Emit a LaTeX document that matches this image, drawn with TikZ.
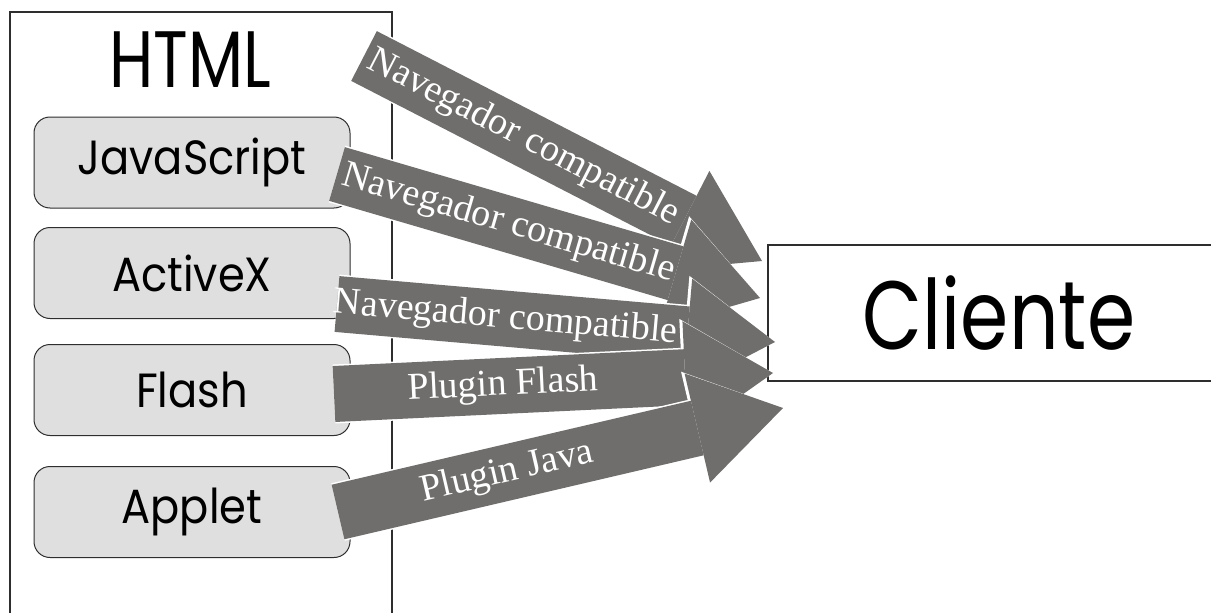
\documentclass[tikz,border=0pt]{standalone}
\usepackage{fontspec}
\setmainfont{Liberation Serif}
\newfontfamily\gothic[FakeStretch=0.8]{Poppins}
\newfontfamily\gothicwide[FakeStretch=0.9]{Poppins}
\usetikzlibrary{arrows.meta}
\definecolor{arrowgray}{HTML}{6F6E6C}
\definecolor{boxgray}{HTML}{DFDFDF}
\definecolor{edgegray}{HTML}{2E2E2E}

\begin{document}
\begin{tikzpicture}[
    x=1pt, y=-1pt,
    frame/.style={draw=edgegray, line width=1.3pt},
    tech/.style={draw=edgegray, line width=1pt, fill=boxgray, rounded corners=16pt,
      minimum width=316pt, minimum height=91pt, inner sep=0pt,
      font=\gothicwide\fontsize{48}{50}\selectfont},
    halo/.style={white, line width=59pt,
      -{Triangle[length=91pt, width=117pt, line width=0pt]}},
    fat/.style={arrowgray, line width=56pt,
      -{Triangle[length=88pt, width=112pt, line width=0pt]}},
    tag/.style={text=white, sloped, inner sep=0pt,
      font=\fontsize{38}{40}\selectfont}]
  \useasboundingbox (0,0) rectangle (1211,613);
  \clip (0,0) rectangle (1211,613);

  % client side technologies
  \draw[frame] (10,12) rectangle (392,640);
  \node[font=\gothic\fontsize{80}{82}\selectfont] (html) at (190,60) {HTML};
  \node[tech] (js) at (192,162.5) {JavaScript};
  \node[tech] (activex) at (192,273) {ActiveX};
  \node[tech] (flash) at (192,390) {Flash};
  \node[tech] (applet) at (192,512) {Applet};

  \node[frame, minimum width=462pt, minimum height=136pt, inner sep=0pt,
    font=\gothic\fontsize{97}{99}\selectfont] (cliente) at (999,313) {Cliente};

  % arrow ends
  \coordinate (s1) at (364,56);  \coordinate (e1) at (762,261);
  \coordinate (s2) at (337,174); \coordinate (e2) at (760,298);
  \coordinate (s3) at (337,304); \coordinate (e3) at (775,342);
  \coordinate (s4) at (334,394); \coordinate (e4) at (773,373);
  \coordinate (s5) at (338,512); \coordinate (e5) at (783,408);

  \draw[halo] (s1) -- (e1);
  \draw[fat] (s1) -- node[tag, pos=0.4] {Navegador compatible} (e1);
  \draw[halo] (s2) -- (e2);
  \draw[fat] (s2) -- node[tag, pos=0.405] {Navegador compatible} (e2);
  \draw[halo] (s3) -- (e3);
  \draw[fat] (s3) -- node[tag, pos=0.385] {Navegador compatible} (e3);
  \draw[halo] (s4) -- (e4);
  \draw[fat] (s4) -- node[tag, pos=0.385] {Plugin Flash} (e4);
  \draw[halo] (s5) -- (e5);
  \draw[fat] (s5) -- node[tag, pos=0.38] {Plugin Java} (e5);
\end{tikzpicture}
\end{document}
